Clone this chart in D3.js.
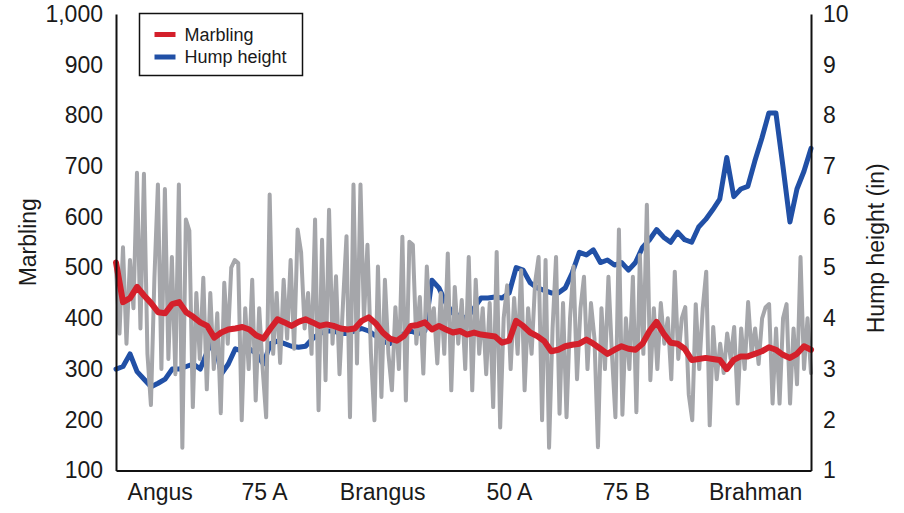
<!DOCTYPE html>
<html>
<head>
<meta charset="utf-8">
<script src="https://cdn.jsdelivr.net/npm/d3@7"></script>
<style>
  html, body { margin: 0; padding: 0; background: #fff; }
  text { font-family: "Liberation Sans", Arial, sans-serif; fill: #1a1a1a; }
</style>
</head>
<body>
<div id="chart"></div>
<script>
// breed groups along the x axis, label sits at this animal index
const breeds = ['Angus', '75 A', 'Brangus', '50 A', '75 B', 'Brahman'];
const breedIdx = [12.5, 42.4, 76.2, 112.5, 146, 183];

const marblingTicks = [100, 200, 300, 400, 500, 600, 700, 800, 900, 1000];
const humpTicks = [1, 2, 3, 4, 5, 6, 7, 8, 9, 10];

const seriesNames = ['Marbling', 'Hump height'];

// individual marbling scores (grey)
const marblingRaw = [
  500, 370, 540, 350, 515, 420, 687, 380, 685, 330,
  229, 480, 664, 300, 655, 320, 521, 290, 664, 145,
  595, 573, 225, 450, 320, 480, 260, 450, 300, 410,
  213, 470, 350, 500, 515, 509, 199, 420, 300, 476,
  238, 420, 300, 205, 644, 330, 450, 312, 476, 360,
  515, 340, 575, 530, 380, 450, 330, 595, 219, 555,
  278, 614, 350, 483, 290, 430, 562, 205, 664, 311,
  664, 400, 545, 330, 199, 502, 245, 476, 330, 258,
  422, 300, 561, 238, 551, 545, 350, 442, 291, 502,
  380, 420, 311, 450, 330, 528, 258, 462, 350, 436,
  300, 521, 258, 476, 330, 420, 290, 430, 225, 531,
  185, 400, 465, 300, 440, 330, 495, 258, 420, 330,
  470, 521, 199, 515, 145, 380, 521, 212, 430, 205,
  400, 502, 280, 420, 482, 300, 430, 360, 146, 420,
  300, 482, 330, 205, 575, 210, 400, 300, 482, 215,
  525, 330, 624, 278, 420, 300, 430, 350, 400, 280,
  492, 320, 400, 422, 250, 199, 428, 300, 420, 492,
  189, 383, 280, 350, 292, 370, 320, 383, 232, 380,
  300, 432, 330, 380, 310, 400, 422, 428, 232, 380,
  232, 400, 428, 232, 380, 270, 521, 300, 400, 292
];

// running average of marbling (red)
const marblingAvg = [
  510, 432, 440, 462, 445, 430, 412, 410, 428, 432,
  412, 403, 392, 385, 362, 372, 378, 380, 383, 378,
  366, 360, 380, 398, 392, 385, 393, 398, 392, 385,
  388, 385, 380, 378, 380, 395, 402, 390, 372, 360,
  356, 365, 385, 387, 392, 378, 385, 378, 372, 375,
  368, 372, 368, 366, 364, 352, 356, 395, 385, 372,
  365, 355, 335, 338, 345, 348, 350, 358, 350, 340,
  330, 338, 345, 340, 338, 350, 375, 393, 370, 352,
  350, 340, 318, 320, 322, 320, 318, 300, 318, 325,
  325, 330, 335, 343, 338, 328, 322, 330, 345, 338
];

// running average of hump height, inches (blue)
const humpAvg = [
  3.0, 3.05, 3.3, 2.95, 2.8, 2.65, 2.72, 2.8, 3.0, 3.0,
  3.05, 3.1, 3.0, 3.35, 3.6, 2.9, 3.1, 3.4, 3.35, 3.4,
  3.3, 3.1, 3.5, 3.55, 3.5, 3.45, 3.43, 3.45, 3.6, 3.7,
  3.75, 3.75, 3.7, 3.7, 3.75, 3.8, 3.75, 3.65, 3.55, 3.5,
  3.6, 3.7, 3.75, 3.7, 3.75, 4.75, 4.6, 4.3, 4.1, 4.05,
  4.0, 4.2, 4.4, 4.4, 4.42, 4.4, 4.5, 5.0, 4.95, 4.7,
  4.6, 4.55, 4.5, 4.5, 4.6, 4.9, 5.3, 5.25, 5.35, 5.1,
  5.15, 5.05, 5.1, 4.95, 5.1, 5.4, 5.55, 5.75, 5.6, 5.5,
  5.7, 5.55, 5.5, 5.8, 5.95, 6.14, 6.35, 7.17, 6.4, 6.55,
  6.6, 7.1, 7.55, 8.05, 8.05, 7.0, 5.9, 6.55, 6.9, 7.35
];

const W = 904, H = 513;
const M = { top: 14, right: 93, bottom: 42.5, left: 116 };

const svg = d3.select('#chart').append('svg')
  .attr('width', W)
  .attr('height', H);

const xRaw = d3.scaleLinear()
  .domain([0, marblingRaw.length - 1])
  .range([M.left, W - M.right]);
const xAvg = d3.scaleLinear()
  .domain([0, marblingAvg.length - 1])
  .range([M.left, W - M.right]);

const yL = d3.scaleLinear().domain([100, 1000]).range([H - M.bottom, M.top]);
const yR = d3.scaleLinear().domain([1, 10]).range([H - M.bottom, M.top]);

const lineRaw = d3.line().x((d, i) => xRaw(i)).y(d => yL(d));
const lineAvg = d3.line().x((d, i) => xAvg(i)).y(d => yL(d));
const lineHump = d3.line().x((d, i) => xAvg(i)).y(d => yR(d));

const RED = '#d4202b', BLUE = '#2150a6', GREY = '#a5a6aa';

// hump height goes underneath the grey
svg.append('path')
  .datum(humpAvg)
  .attr('d', lineHump)
  .attr('fill', 'none')
  .attr('stroke', BLUE)
  .attr('stroke-width', 5)
  .attr('stroke-linejoin', 'round')
  .attr('stroke-linecap', 'round');

svg.append('path')
  .datum(marblingRaw)
  .attr('d', lineRaw)
  .attr('fill', 'none')
  .attr('stroke', GREY)
  .attr('stroke-width', 4)
  .attr('stroke-linejoin', 'round')
  .attr('stroke-linecap', 'round');

svg.append('path')
  .datum(marblingAvg)
  .attr('d', lineAvg)
  .attr('fill', 'none')
  .attr('stroke', RED)
  .attr('stroke-width', 6)
  .attr('stroke-linejoin', 'round')
  .attr('stroke-linecap', 'round');

// axes
const styleAxis = g => {
  g.select('.domain').attr('stroke', '#111').attr('stroke-width', 2);
  g.selectAll('text').attr('font-size', '23px').attr('fill', '#1a1a1a')
    .attr('font-family', '"Liberation Sans", Arial, sans-serif');
};

svg.append('g')
  .attr('transform', `translate(${M.left},0)`)
  .call(d3.axisLeft(yL).tickValues(marblingTicks).tickFormat(d3.format(','))
    .tickSize(0).tickPadding(13))
  .call(styleAxis);

svg.append('g')
  .attr('transform', `translate(${W - M.right},0)`)
  .call(d3.axisRight(yR).tickValues(humpTicks).tickFormat(d3.format('d'))
    .tickSize(0).tickPadding(12))
  .call(styleAxis);

svg.append('g')
  .attr('transform', `translate(0,${H - M.bottom})`)
  .call(d3.axisBottom(xRaw).tickValues(breedIdx).tickFormat((d, i) => breeds[i])
    .tickSize(0).tickPadding(13))
  .call(styleAxis);

// axis titles
svg.append('text')
  .attr('transform', `translate(36,${(M.top + H - M.bottom) / 2}) rotate(-90)`)
  .attr('text-anchor', 'middle')
  .attr('font-size', '23px')
  .text('Marbling');

svg.append('text')
  .attr('transform', `translate(884,${(M.top + H - M.bottom) / 2 + 6}) rotate(-90)`)
  .attr('text-anchor', 'middle')
  .attr('font-size', '23px')
  .text('Hump height (in)');

// legend
const legend = svg.append('g').attr('transform', 'translate(139.5,13.5)');
legend.append('rect')
  .attr('width', 163).attr('height', 62)
  .attr('fill', '#fff').attr('stroke', '#111').attr('stroke-width', 1.5);

[RED, BLUE].forEach((c, i) => {
  legend.append('line')
    .attr('x1', 15).attr('x2', 36)
    .attr('y1', 21 + i * 22.5).attr('y2', 21 + i * 22.5)
    .attr('stroke', c).attr('stroke-width', 5);
  legend.append('text')
    .attr('x', 45).attr('y', 21 + i * 22.5)
    .attr('dy', '0.35em')
    .attr('font-size', '18px')
    .text(seriesNames[i]);
});
</script>
</body>
</html>
